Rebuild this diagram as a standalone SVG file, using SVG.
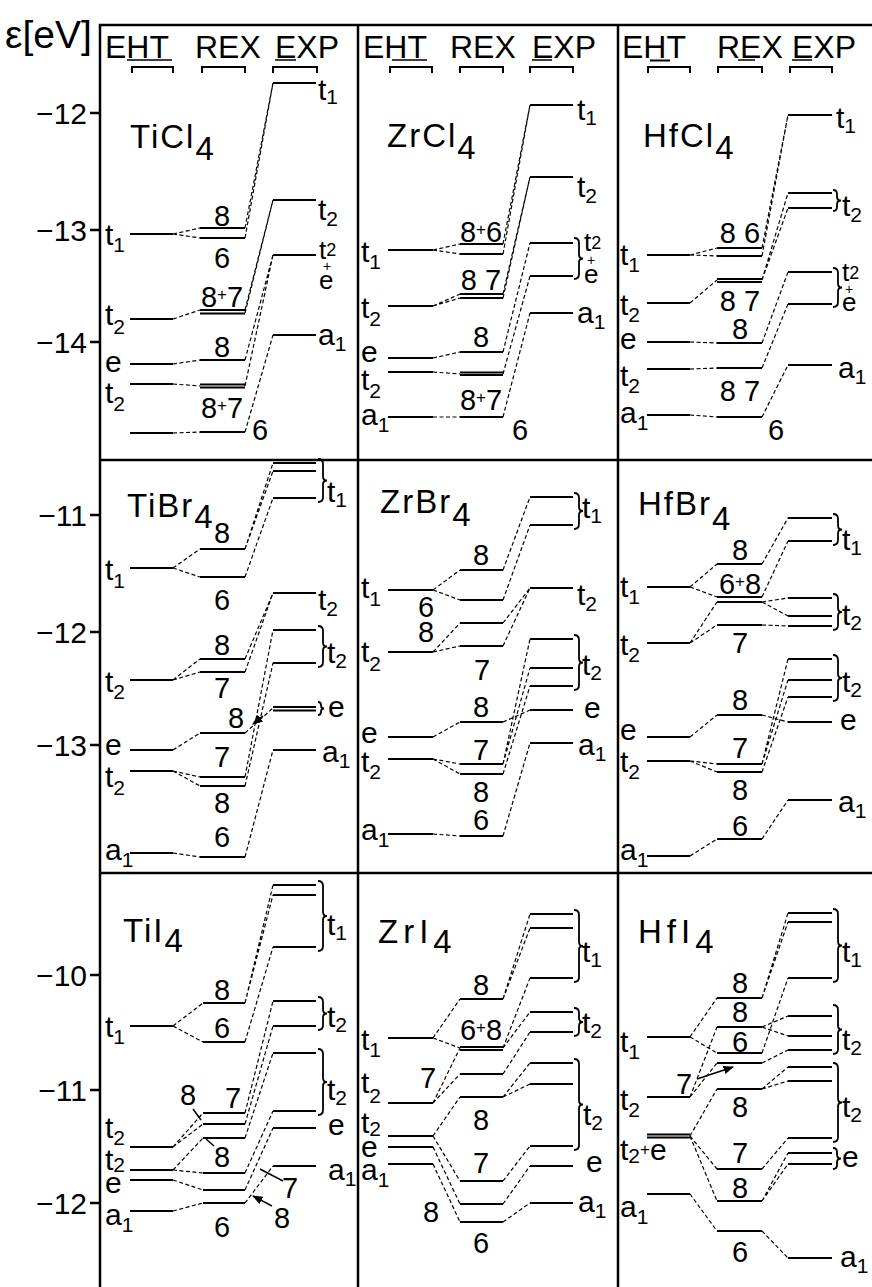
<svg xmlns="http://www.w3.org/2000/svg" width="872" height="1287" viewBox="0 0 872 1287">
<defs>
<style>
.fr{stroke:#000;stroke-width:2.5;fill:none}
.lv{stroke:#000;stroke-width:2;fill:none}
.ul{stroke:#000;stroke-width:1.5;fill:none}
.cn{stroke:#000;stroke-width:1.2;fill:none;stroke-dasharray:4 2.5}
.br{stroke:#000;stroke-width:1.8;fill:none}
.ar{stroke:#000;stroke-width:1.5;fill:none}
text{font-family:"Liberation Sans",Arial,sans-serif;fill:#000}
.hd{font-size:32px}
.ax{font-size:30px;text-anchor:end}
.mol{font-size:33px;letter-spacing:2px}
.lb{font-size:30px}
.st{font-size:26px}
.sb{font-size:21px}
.ss{font-size:18px}
.n{font-size:29px;text-anchor:middle}
.ns{font-size:29px}
.pl{font-size:17px}
.pp{font-size:14px}
</style>
<marker id="ah" viewBox="0 0 10 10" refX="9" refY="5" markerWidth="7" markerHeight="7" orient="auto">
<path d="M0 1L10 5L0 9z" fill="#000"/>
</marker>
</defs>
<rect width="872" height="1287" fill="#fff"/>

<!-- frame and energy axis -->
<g id="frame">
<path class="fr" d="M100 1287V25H872 M358 25V1287 M618 25V1287 M100 460H872 M100 873H872"/>
<path class="fr" d="M90 113H100 M90 230H100 M90 342H100 M90 515H100 M90 632H100 M90 745H100 M90 975H100 M90 1090H100 M90 1203H100"/>
<text x="5" y="48" style="font-size:39px">ε[eV]</text>
<text class="ax" x="87" y="124">−12</text>
<text class="ax" x="87" y="241">−13</text>
<text class="ax" x="87" y="353">−14</text>
<text class="ax" x="87" y="526">−11</text>
<text class="ax" x="87" y="643">−12</text>
<text class="ax" x="87" y="756">−13</text>
<text class="ax" x="87" y="986">−10</text>
<text class="ax" x="87" y="1101">−11</text>
<text class="ax" x="87" y="1214">−12</text>
</g>

<!-- column headings -->
<g id="headings">
<text class="hd" x="105" y="58">EHT</text><text class="hd" x="195" y="58">REX</text><text class="hd" x="275" y="58">EXP</text>
<text class="hd" x="363" y="58">EHT</text><text class="hd" x="450" y="58">REX</text><text class="hd" x="532" y="58">EXP</text>
<text class="hd" x="622" y="58">EHT</text><text class="hd" x="717" y="58">REX</text><text class="hd" x="792" y="58">EXP</text>
<path class="ul" d="M127 60H172 M275 60H296 M392 60H427 M532 60H552 M738 60H755 M792 60H812"/>
<path class="lv" d="M650 60.5H670"/>
<path class="lv" d="M132 73V67H173V73 M202 73V67H245V73 M273 73V67H317V73 M390 73V67H432V73 M460 73V67H503V73 M530 73V67H573V73 M648 73V67H690V73 M718 73V67H762V73 M790 73V67H832V73"/>
</g>

<!-- TiCl4 -->
<g id="ticl4">
<path class="lv" d="M130 234H173 M130 319H173 M130 364H173 M130 384H173 M130 433H173 M200 228H245 M200 238H245 M200 310H245 M200 313.5H245 M200 360H245 M200 384.5H245 M200 387.5H245 M200 432H245 M273 83H316 M273 200H316 M273 255H316 M273 335H316"/>
<text class="mol" x="130" y="148">TiCl<tspan dy="12">4</tspan></text>
<text class="lb" x="105" y="245">t<tspan class="sb" dy="7">1</tspan></text>
<text class="lb" x="105" y="325">t<tspan class="sb" dy="9">2</tspan></text>
<text class="lb" x="105" y="372">e</text>
<text class="lb" x="105" y="403">t<tspan class="sb" dy="8">2</tspan></text>
<text class="n" x="222" y="226">8</text>
<text class="n" x="222" y="268">6</text>
<text class="n" x="222" y="307">8<tspan class="pl" dy="-7">+</tspan><tspan dy="7">7</tspan></text>
<text class="n" x="222" y="357">8</text>
<text class="n" x="222" y="418">8<tspan class="pl" dy="-7">+</tspan><tspan dy="7">7</tspan></text>
<text class="ns" x="252" y="440">6</text>
<text class="lb" x="318" y="100">t<tspan class="sb" dy="4">1</tspan></text>
<text class="lb" x="318" y="220">t<tspan class="sb" dy="6">2</tspan></text>
<text class="st" x="319" y="259">t<tspan class="ss" dy="-3">2</tspan></text>
<text class="st" x="319" y="289"><tspan class="pp" x="323" y="271">+</tspan><tspan x="319" y="289">e</tspan></text>
<text class="lb" x="318" y="345">a<tspan class="sb" dy="6">1</tspan></text>
</g>

<!-- ZrCl4 -->
<g id="zrcl4">
<path class="lv" d="M388 250H433 M388 306H433 M388 358H433 M388 372H433 M388 417H433 M460 244H503 M460 254H503 M460 294H503 M460 298H503 M460 352H503 M460 372.5H503 M460 375H503 M460 417H503 M530 105H573 M530 177H573 M530 243H573 M530 276H573 M530 313H573"/>
<path class="br" d="M574 238q5 0 5 5V254.5q0 4 4 4q-4 0 -4 4V274q0 5 -5 5"/>
<text class="mol" x="387" y="147">ZrCl<tspan dy="12">4</tspan></text>
<text class="lb" x="361" y="262">t<tspan class="sb" dy="7">1</tspan></text>
<text class="lb" x="361" y="318">t<tspan class="sb" dy="8">2</tspan></text>
<text class="lb" x="361" y="362">e</text>
<text class="lb" x="361" y="390">t<tspan class="sb" dy="8">2</tspan></text>
<text class="lb" x="361" y="425">a<tspan class="sb" dy="7">1</tspan></text>
<text class="n" x="481" y="242">8<tspan class="pl" dy="-7">+</tspan><tspan dy="7">6</tspan></text>
<text class="n" x="481" y="290">8 7</text>
<text class="n" x="481" y="347">8</text>
<text class="n" x="481" y="410">8<tspan class="pl" dy="-7">+</tspan><tspan dy="7">7</tspan></text>
<text class="ns" x="512" y="440">6</text>
<text class="lb" x="577" y="120">t<tspan class="sb" dy="5">1</tspan></text>
<text class="lb" x="577" y="197">t<tspan class="sb" dy="6">2</tspan></text>
<text class="st" x="584" y="251">t<tspan class="ss" dy="-2">2</tspan></text>
<text class="st" x="584" y="283"><tspan class="pp" x="587" y="265">+</tspan><tspan x="584" y="283">e</tspan></text>
<text class="lb" x="577" y="323">a<tspan class="sb" dy="6">1</tspan></text>
</g>

<!-- HfCl4 -->
<g id="hfcl4">
<path class="lv" d="M647 255H690 M647 303H690 M647 342H690 M647 369H690 M647 415H690 M717 248H762 M717 256H762 M717 279H762 M717 282H762 M717 343H762 M717 368H762 M717 417H762 M788 115H832 M788 193H832 M788 208H832 M788 272H832 M788 304H832 M788 365H832"/>
<path class="br" d="M833 190q4 0 4 4V196.5q0 4 4 4q-4 0 -4 4V207q0 4 -4 4 M833 268q5 0 5 5V283.5q0 4 4 4q-4 0 -4 4V302q0 5 -5 5"/>
<text class="mol" x="643" y="147">HfCl<tspan dy="12">4</tspan></text>
<text class="lb" x="620" y="265">t<tspan class="sb" dy="7">1</tspan></text>
<text class="lb" x="620" y="315">t<tspan class="sb" dy="7">2</tspan></text>
<text class="lb" x="620" y="349">e</text>
<text class="lb" x="620" y="386">t<tspan class="sb" dy="7">2</tspan></text>
<text class="lb" x="620" y="423">a<tspan class="sb" dy="7">1</tspan></text>
<text class="n" x="740" y="243">8 6</text>
<text class="n" x="740" y="311">8 7</text>
<text class="n" x="740" y="339">8</text>
<text class="n" x="740" y="401">8 7</text>
<text class="ns" x="768" y="440">6</text>
<text class="lb" x="836" y="128">t<tspan class="sb" dy="5">1</tspan></text>
<text class="lb" x="842" y="216">t<tspan class="sb" dy="6">2</tspan></text>
<text class="st" x="842" y="281">t<tspan class="ss" dy="-2">2</tspan></text>
<text class="st" x="842" y="311"><tspan class="pp" x="845" y="294">+</tspan><tspan x="842" y="311">e</tspan></text>
<text class="lb" x="838" y="378">a<tspan class="sb" dy="6">1</tspan></text>
</g>

<!-- TiBr4 -->
<g id="tibr4">
<path class="lv" d="M130 568H173 M130 680H173 M130 750H173 M130 771H173 M130 853H173 M200 549H245 M200 577H245 M200 659H245 M200 672H245 M200 733H245 M200 777H245 M200 786H245 M200 857H245 M273 463H316 M273 471H316 M273 498H316 M273 593H316 M273 630H316 M273 663H316 M273 707H316 M273 710.5H316 M273 750H316"/>
<path class="br" d="M318 459q5 0 5 5V476.5q0 4 4 4q-4 0 -4 4V497q0 5 -5 5 M318 626q5 0 5 5V642.5q0 4 4 4q-4 0 -4 4V662q0 5 -5 5 M318 702q3 0 3 3V705.5q0 3 3 3q-3 0 -3 3V712q0 3 -3 3"/>
<text class="mol" x="127" y="517">TiBr<tspan dy="11">4</tspan></text>
<text class="lb" x="105" y="580">t<tspan class="sb" dy="8">1</tspan></text>
<text class="lb" x="105" y="692">t<tspan class="sb" dy="7">2</tspan></text>
<text class="lb" x="105" y="755">e</text>
<text class="lb" x="105" y="787">t<tspan class="sb" dy="8">2</tspan></text>
<text class="lb" x="105" y="860">a<tspan class="sb" dy="7">1</tspan></text>
<text class="n" x="222" y="543">8</text>
<text class="n" x="222" y="610">6</text>
<text class="n" x="222" y="655">8</text>
<text class="n" x="222" y="698">7</text>
<text class="n" x="236" y="728">8</text>
<text class="n" x="222" y="767">7</text>
<text class="n" x="222" y="813">8</text>
<text class="n" x="222" y="847">6</text>
<text class="lb" x="327" y="502">t<tspan class="sb" dy="5">1</tspan></text>
<text class="lb" x="318" y="610">t<tspan class="sb" dy="6">2</tspan></text>
<text class="lb" x="327" y="663">t<tspan class="sb" dy="5">2</tspan></text>
<text class="lb" x="328" y="717">e</text>
<text class="lb" x="322" y="762">a<tspan class="sb" dy="6">1</tspan></text>
</g>

<!-- ZrBr4 -->
<g id="zrbr4">
<path class="lv" d="M388 590H433 M388 652H433 M388 737H433 M388 759H433 M388 834H433 M460 570H503 M460 600H503 M460 623H503 M460 646H503 M460 722H503 M460 764H503 M460 774H503 M460 836H503 M530 497H573 M530 525H573 M530 588H573 M530 639H573 M530 668H573 M530 686H573 M530 710H573 M530 743H573"/>
<path class="br" d="M574 493q5 0 5 5V507q0 4 4 4q-4 0 -4 4V524q0 5 -5 5 M574 635q5 0 5 5V658.5q0 4 4 4q-4 0 -4 4V685q0 5 -5 5"/>
<text class="mol" x="380" y="513">ZrBr<tspan dy="13">4</tspan></text>
<text class="lb" x="361" y="598">t<tspan class="sb" dy="8">1</tspan></text>
<text class="lb" x="361" y="662">t<tspan class="sb" dy="9">2</tspan></text>
<text class="lb" x="361" y="743">e</text>
<text class="lb" x="361" y="772">t<tspan class="sb" dy="7">2</tspan></text>
<text class="lb" x="361" y="840">a<tspan class="sb" dy="7">1</tspan></text>
<text class="n" x="481" y="565">8</text>
<text class="n" x="426" y="617">6</text>
<text class="n" x="426" y="642">8</text>
<text class="n" x="482" y="680">7</text>
<text class="n" x="481" y="717">8</text>
<text class="n" x="481" y="760">7</text>
<text class="n" x="481" y="802">8</text>
<text class="n" x="481" y="830">6</text>
<text class="lb" x="582" y="518">t<tspan class="sb" dy="5">1</tspan></text>
<text class="lb" x="577" y="605">t<tspan class="sb" dy="6">2</tspan></text>
<text class="lb" x="582" y="675">t<tspan class="sb" dy="5">2</tspan></text>
<text class="lb" x="584" y="718">e</text>
<text class="lb" x="578" y="755">a<tspan class="sb" dy="6">1</tspan></text>
</g>

<!-- HfBr4 -->
<g id="hfbr4">
<path class="lv" d="M647 587H690 M647 643H690 M647 737H690 M647 761H690 M647 856H690 M717 564H762 M717 597H762 M717 602H762 M717 625H762 M717 715H762 M717 764H762 M717 772H762 M717 839H762 M788 518H832 M788 541H832 M788 598H832 M788 616H832 M788 626H832 M788 659H832 M788 680H832 M788 697H832 M788 722H832 M788 800H832"/>
<path class="br" d="M833 514q5 0 5 5V525.5q0 4 4 4q-4 0 -4 4V540q0 5 -5 5 M833 594q5 0 5 5V608q0 4 4 4q-4 0 -4 4V625q0 5 -5 5 M833 655q5 0 5 5V674q0 4 4 4q-4 0 -4 4V696q0 5 -5 5"/>
<text class="mol" x="638" y="515">HfBr<tspan dy="15">4</tspan></text>
<text class="lb" x="620" y="597">t<tspan class="sb" dy="7">1</tspan></text>
<text class="lb" x="620" y="655">t<tspan class="sb" dy="7">2</tspan></text>
<text class="lb" x="620" y="740">e</text>
<text class="lb" x="620" y="772">t<tspan class="sb" dy="7">2</tspan></text>
<text class="lb" x="620" y="860">a<tspan class="sb" dy="7">1</tspan></text>
<text class="n" x="740" y="560">8</text>
<text class="n" x="740" y="594">6<tspan class="pl" dy="-7">+</tspan><tspan dy="7">8</tspan></text>
<text class="n" x="740" y="653">7</text>
<text class="n" x="740" y="710">8</text>
<text class="n" x="740" y="758">7</text>
<text class="n" x="740" y="800">8</text>
<text class="n" x="740" y="836">6</text>
<text class="lb" x="842" y="550">t<tspan class="sb" dy="5">1</tspan></text>
<text class="lb" x="842" y="625">t<tspan class="sb" dy="5">2</tspan></text>
<text class="lb" x="842" y="692">t<tspan class="sb" dy="5">2</tspan></text>
<text class="lb" x="840" y="730">e</text>
<text class="lb" x="838" y="812">a<tspan class="sb" dy="6">1</tspan></text>
</g>

<!-- TiI4 -->
<g id="tii4">
<path class="lv" d="M130 1026H173 M130 1147H173 M130 1170H173 M130 1180H173 M130 1211H173 M203 1003H245 M203 1042H245 M203 1113H245 M203 1124H245 M203 1138H245 M203 1173H245 M203 1190H245 M203 1203H245 M273 885H316 M273 895H316 M273 947H316 M273 1001H316 M273 1026H316 M273 1053H316 M273 1111H316 M273 1128H316 M273 1166H316"/>
<path class="br" d="M318 881q5 0 5 5V912q0 4 4 4q-4 0 -4 4V946q0 5 -5 5 M318 997q5 0 5 5V1009.5q0 4 4 4q-4 0 -4 4V1025q0 5 -5 5 M318 1049q5 0 5 5V1078q0 4 4 4q-4 0 -4 4V1110q0 5 -5 5"/>
<path class="ar" marker-end="url(#ah)" d="M193 1109L201 1120 M214 1146L206 1139 M283 1181L260 1169 M272 1206L253 1196"/>
<text class="mol" x="123" y="942">TiI<tspan dy="10">4</tspan></text>
<text class="lb" x="105" y="1037">t<tspan class="sb" dy="7">1</tspan></text>
<text class="lb" x="105" y="1138">t<tspan class="sb" dy="7">2</tspan></text>
<text class="lb" x="105" y="1170">t<tspan class="sb" dy="2">2</tspan></text>
<text class="lb" x="105" y="1193">e</text>
<text class="lb" x="105" y="1225">a<tspan class="sb" dy="7">1</tspan></text>
<text class="n" x="222" y="1000">8</text>
<text class="n" x="222" y="1038">6</text>
<text class="n" x="233" y="1108">7</text>
<text class="n" x="188" y="1105">8</text>
<text class="n" x="222" y="1167">8</text>
<text class="n" x="222" y="1237">6</text>
<text class="n" x="290" y="1198">7</text>
<text class="n" x="282" y="1228">8</text>
<text class="lb" x="327" y="935">t<tspan class="sb" dy="5">1</tspan></text>
<text class="lb" x="327" y="1027">t<tspan class="sb" dy="5">2</tspan></text>
<text class="lb" x="327" y="1100">t<tspan class="sb" dy="5">2</tspan></text>
<text class="lb" x="328" y="1135">e</text>
<text class="lb" x="328" y="1180">a<tspan class="sb" dy="6">1</tspan></text>
</g>

<!-- ZrI4 -->
<g id="zri4">
<path class="lv" d="M388 1038H433 M388 1103H433 M388 1136H433 M388 1147H433 M388 1164H433 M460 999H503 M460 1047H503 M460 1050H503 M460 1074H503 M460 1097H503 M460 1181H503 M460 1204H503 M460 1222H503 M530 914H573 M530 928H573 M530 978H573 M530 1012H573 M530 1032H573 M530 1063H573 M530 1084H573 M530 1146H573 M530 1166H573 M530 1203H573"/>
<path class="br" d="M574 910q5 0 5 5V942q0 4 4 4q-4 0 -4 4V977q0 5 -5 5 M574 1008q5 0 5 5V1018q0 4 4 4q-4 0 -4 4V1031q0 5 -5 5 M574 1059q5 0 5 5V1100.5q0 4 4 4q-4 0 -4 4V1145q0 5 -5 5"/>
<text class="mol" x="378" y="943" style="letter-spacing:5px">ZrI<tspan dy="10">4</tspan></text>
<text class="lb" x="361" y="1050">t<tspan class="sb" dy="7">1</tspan></text>
<text class="lb" x="361" y="1093">t<tspan class="sb" dy="10">2</tspan></text>
<text class="lb" x="361" y="1133">t<tspan class="sb" dy="3">2</tspan></text>
<text class="lb" x="361" y="1157">e</text>
<text class="lb" x="361" y="1180">a<tspan class="sb" dy="7">1</tspan></text>
<text class="n" x="481" y="995">8</text>
<text class="n" x="481" y="1040">6<tspan class="pl" dy="-7">+</tspan><tspan dy="7">8</tspan></text>
<text class="n" x="428" y="1088">7</text>
<text class="n" x="481" y="1130">8</text>
<text class="n" x="481" y="1173">7</text>
<text class="n" x="431" y="1222">8</text>
<text class="n" x="481" y="1253">6</text>
<text class="lb" x="582" y="962">t<tspan class="sb" dy="5">1</tspan></text>
<text class="lb" x="582" y="1033">t<tspan class="sb" dy="5">2</tspan></text>
<text class="lb" x="583" y="1125">t<tspan class="sb" dy="5">2</tspan></text>
<text class="lb" x="586" y="1172">e</text>
<text class="lb" x="578" y="1212">a<tspan class="sb" dy="6">1</tspan></text>
</g>

<!-- HfI4 -->
<g id="hfi4">
<path class="lv" d="M647 1037H690 M647 1097H690 M647 1134.5H690 M647 1137.5H690 M647 1194H690 M717 998H762 M717 1027H762 M717 1053H762 M717 1063H762 M717 1089H762 M717 1169H762 M717 1201H762 M717 1231H762 M788 913H832 M788 922H832 M788 978H832 M788 1016H832 M788 1036H832 M788 1050H832 M788 1067H832 M788 1081H832 M788 1138H832 M788 1153H832 M788 1164H832 M788 1258H832"/>
<path class="br" d="M833 909q5 0 5 5V941.5q0 4 4 4q-4 0 -4 4V977q0 5 -5 5 M833 1005q5 0 5 5V1025.5q0 4 4 4q-4 0 -4 4V1049q0 5 -5 5 M833 1063q5 0 5 5V1098.5q0 4 4 4q-4 0 -4 4V1137q0 5 -5 5 M833 1148q4 0 4 4V1154.5q0 4 4 4q-4 0 -4 4V1165q0 4 -4 4"/>
<path class="ar" marker-end="url(#ah)" d="M697 1079L733 1067"/>
<text class="mol" x="638" y="943" style="letter-spacing:5px">HfI<tspan dy="10">4</tspan></text>
<text class="lb" x="620" y="1052">t<tspan class="sb" dy="7">1</tspan></text>
<text class="lb" x="620" y="1110">t<tspan class="sb" dy="7">2</tspan></text>
<text class="lb" x="620" y="1160">t<tspan class="sb" dy="3">2</tspan><tspan class="pl" dy="-8">+</tspan><tspan dy="5">e</tspan></text>
<text class="lb" x="620" y="1217">a<tspan class="sb" dy="7">1</tspan></text>
<text class="n" x="740" y="993">8</text>
<text class="n" x="740" y="1022">8</text>
<text class="n" x="740" y="1052">6</text>
<text class="n" x="684" y="1094">7</text>
<text class="n" x="740" y="1117">8</text>
<text class="n" x="740" y="1163">7</text>
<text class="n" x="740" y="1198">8</text>
<text class="n" x="740" y="1262">6</text>
<text class="lb" x="842" y="962">t<tspan class="sb" dy="5">1</tspan></text>
<text class="lb" x="842" y="1050">t<tspan class="sb" dy="5">2</tspan></text>
<text class="lb" x="842" y="1117">t<tspan class="sb" dy="5">2</tspan></text>
<text class="lb" x="842" y="1167">e</text>
<text class="lb" x="840" y="1267">a<tspan class="sb" dy="6">1</tspan></text>
</g>

<!-- correlation lines between EHT, REX and EXP levels -->
<g id="connectors">
<path class="cn" d="M173 234L200 228 M173 234L200 238 M173 319L200 310 M173 364L200 360 M173 384L200 386 M173 433L200 432 M245 228L273 83 M245 238L273 83 M245 310L273 200 M245 313L273 200 M245 360L273 255 M245 386L273 255 M245 432L273 335"/>
<path class="cn" d="M433 250L460 244 M433 250L460 254 M433 306L460 294 M433 306L460 298 M433 358L460 352 M433 372L460 374 M433 417L460 417 M503 244L530 105 M503 254L530 105 M503 294L530 177 M503 298L530 177 M503 352L530 243 M503 374L530 276 M503 417L530 313"/>
<path class="cn" d="M690 255L717 248 M690 255L717 256 M690 303L717 280 M690 342L717 343 M690 369L717 368 M690 415L717 417 M762 248L788 115 M762 256L788 115 M762 280L788 193 M762 280L788 208 M762 343L788 272 M762 368L788 304 M762 417L788 365"/>
<path class="cn" d="M173 568L200 549 M173 568L200 577 M173 680L200 659 M173 680L200 672 M173 750L200 733 M173 771L200 777 M173 771L200 786 M173 853L200 857 M245 549L273 463 M245 549L273 471 M245 577L273 498 M245 659L273 593 M245 672L273 593 M245 733L273 708 M245 777L273 630 M245 786L273 663 M245 857L273 750"/>
<path class="ar" marker-end="url(#ah)" d="M263 716L253 724"/>
<path class="cn" d="M433 590L460 570 M433 590L460 600 M433 652L460 623 M433 652L460 646 M433 737L460 722 M433 759L460 764 M433 759L460 774 M433 834L460 836 M503 570L530 497 M503 600L530 525 M503 623L530 588 M503 646L530 588 M503 722L530 710 M503 764L530 639 M503 764L530 668 M503 774L530 686 M503 836L530 743"/>
<path class="cn" d="M690 587L717 564 M690 587L717 597 M690 643L717 602 M690 643L717 625 M690 737L717 715 M690 761L717 764 M690 761L717 772 M690 856L717 839 M762 564L788 518 M762 597L788 541 M762 602L788 598 M762 602L788 616 M762 625L788 626 M762 715L788 722 M762 764L788 659 M762 764L788 680 M762 772L788 697 M762 839L788 800"/>
<path class="cn" d="M173 1026L203 1003 M173 1026L203 1042 M173 1147L203 1113 M173 1147L203 1124 M173 1170L203 1138 M173 1170L203 1173 M173 1180L203 1190 M173 1211L203 1203 M245 1003L273 885 M245 1003L273 895 M245 1042L273 947 M245 1113L273 1001 M245 1124L273 1026 M245 1138L273 1053 M245 1173L273 1111 M245 1190L273 1128 M245 1203L273 1166"/>
<path class="cn" d="M433 1038L460 999 M433 1038L460 1048 M433 1103L460 1048 M433 1103L460 1074 M433 1136L460 1097 M433 1136L460 1181 M433 1147L460 1204 M433 1164L460 1222 M503 999L530 914 M503 999L530 928 M503 1048L530 978 M503 1048L530 1012 M503 1074L530 1032 M503 1097L530 1063 M503 1097L530 1084 M503 1181L530 1146 M503 1204L530 1166 M503 1222L530 1203"/>
<path class="cn" d="M690 1037L717 998 M690 1037L717 1053 M690 1097L717 1027 M690 1097L717 1063 M690 1136L717 1089 M690 1136L717 1169 M690 1136L717 1201 M690 1194L717 1231 M762 998L788 913 M762 998L788 922 M762 1027L788 1036 M762 1027L788 1016 M762 1053L788 978 M762 1063L788 1050 M762 1089L788 1067 M762 1089L788 1081 M762 1169L788 1138 M762 1201L788 1153 M762 1201L788 1164 M762 1231L788 1258"/>
</g>
</svg>
